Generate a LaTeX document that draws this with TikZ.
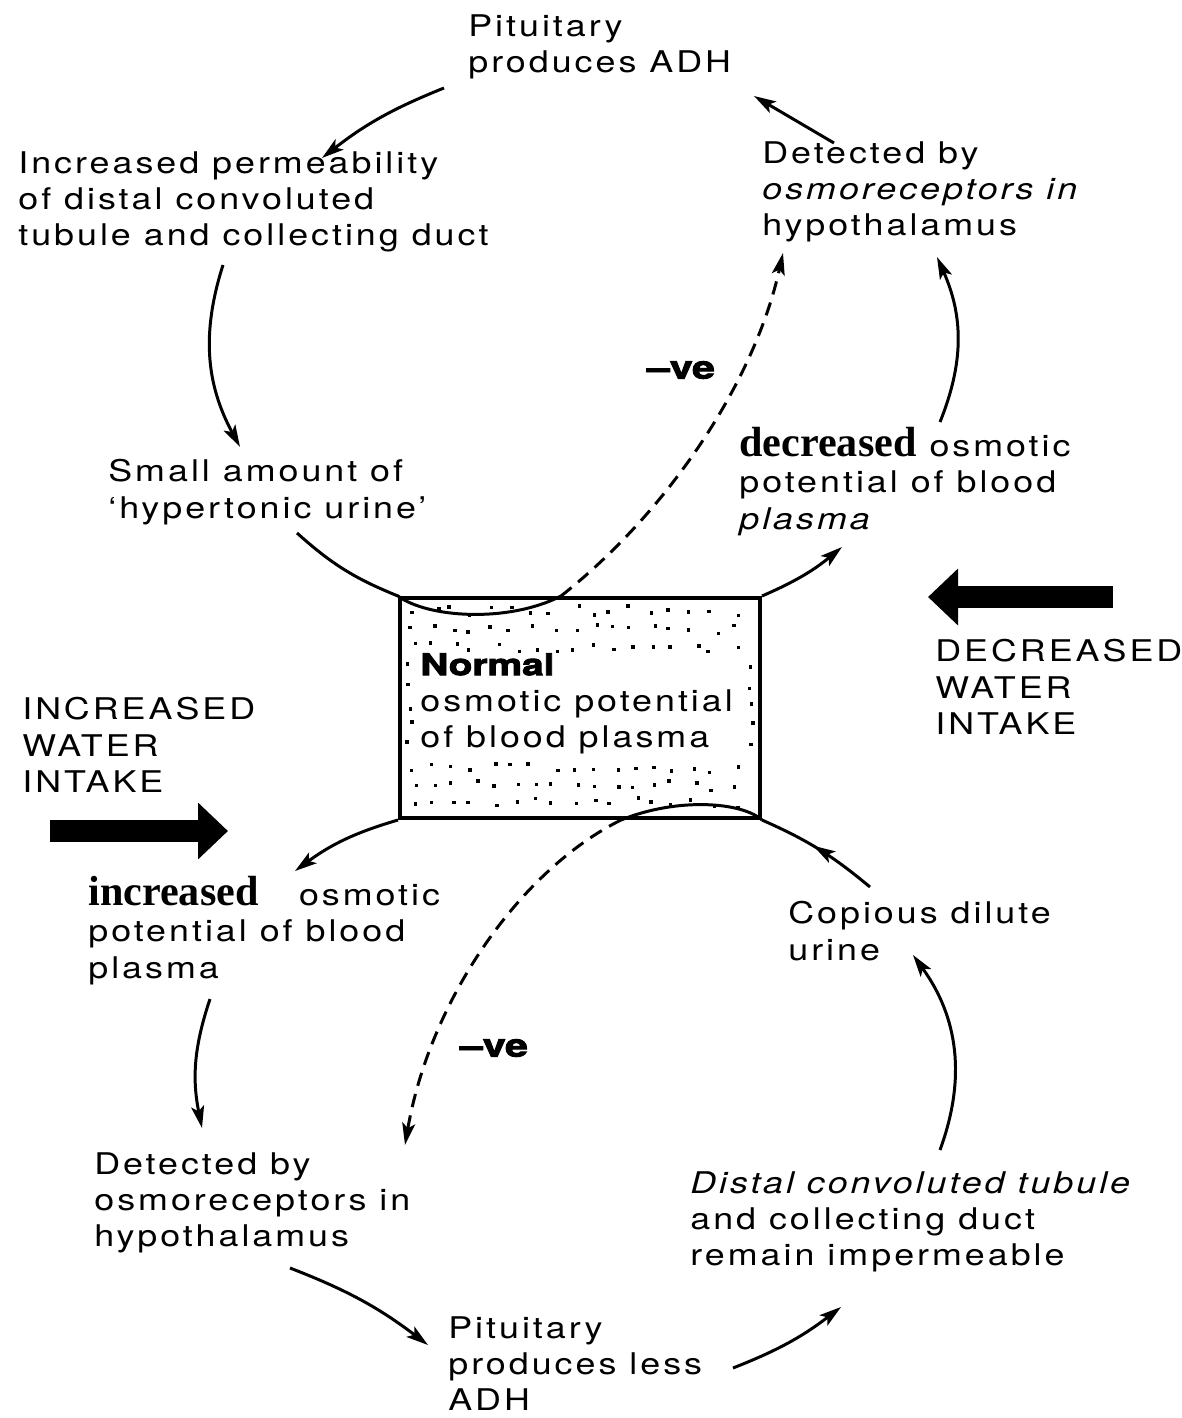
\documentclass[tikz,border=0pt]{standalone}
\usepackage{fontspec}
\setmainfont{TeX Gyre Heros}[LetterSpace=10, FakeStretch=1.2]
\newfontfamily\heavyfont{texgyreheros-bold.otf}[FakeStretch=1.3, FakeBold=3]
\newfontfamily\serifbf{Liberation Serif}
\usetikzlibrary{arrows.meta, positioning, decorations.markings}
\newcommand{\bigword}[1]{{\serifbf\bfseries\fontsize{24}{24}\selectfont #1}}
\newcommand{\negword}{{\heavyfont\fontsize{18}{18}\selectfont –ve}}

\tikzset{
  txt/.style={anchor=north west, inner sep=0pt, align=left, font=\fontsize{17}{20.7}\selectfont},
  normalbox/.style={draw, line width=2.3pt, inner sep=0pt, minimum width=7.2cm, minimum height=4.4cm},
  plainline/.style={line width=1.7pt},
  link/.style={plainline, -{Stealth[length=0.44cm, width=0.26cm, inset=0.1cm]}},
  neglink/.style={link, dash pattern=on 0.27cm off 0.17cm},
  midlink/.style={plainline, postaction={decorate}, decoration={markings,
      mark=at position 0.55 with {\arrow{Stealth[length=0.44cm, width=0.26cm, inset=0.1cm]}}}},
  bigarrow/.style={line width=0.44cm, -{Triangle[length=0.6cm, width=1.1cm]}},
  stip/.style={fill=black}
}

\begin{document}
\begin{tikzpicture}[x=0.02cm, y=-0.02cm]
\path[use as bounding box, fill=white] (0,0) rectangle (1182,1418);

% centre box with stipple
\node[normalbox] (box) at (580,708) {};
\pgfmathsetseed{11}
\foreach \gx in {412,432,...,742}{
  \foreach \gy in {609,627,645,767,784,801}{
    \fill[stip] ({\gx+12*rnd-6},{\gy+10*rnd-5}) rectangle ++(3.5,3.5);
  }
}
\foreach \gy in {665,685,...,745}{
  \fill[stip] ({405+7*rnd},{\gy+10*rnd-5}) rectangle ++(3.5,3.5);
  \fill[stip] ({747+6*rnd},{\gy+10*rnd-5}) rectangle ++(3.5,3.5);
}
\node[txt] (normal) at (420,653) {{\heavyfont\fontsize{17}{20}\selectfont Normal}\\osmotic potential\\of blood plasma};

% top loop
\node[txt] (pitA) at (468,14) {Pituitary\\produces ADH};
\node[txt] (perm) at (18,151) {Increased permeability\\of distal convoluted\\tubule and collecting duct};
\node[txt] (detA) at (762,141) {Detected by\\{\itshape osmoreceptors in}\\hypothalamus};
\node[txt] (small) at (108,459) {Small amount of\\`hypertonic urine'};
\node[txt] (decr) at (739,427) {\bigword{decreased} osmotic\\potential of blood\\{\itshape plasma}};
\node (negA) at (681,370) {\negword};

% bottom loop
\node[txt] (incr) at (88,876) {\bigword{increased}\hspace{0.55cm} osmotic\\potential of blood\\plasma};
\node (negB) at (494,1048) {\negword};
\node[txt] (detB) at (94,1152) {Detected by\\osmoreceptors in\\hypothalamus};
\node[txt] (pitB) at (448,1316) {Pituitary\\produces less\\ADH};
\node[txt] (dist) at (690,1171) {{\itshape Distal convoluted tubule}\\and collecting duct\\remain impermeable};
\node[txt] (copi) at (788,901) {Copious dilute\\urine};

% water intake
\node[txt] (incw) at (22,697) {INCREASED\\WATER\\INTAKE};
\node[txt] (decw) at (935,639) {DECREASED\\WATER\\INTAKE};
\draw[bigarrow] ([shift={(28,134)}]incw.north west) -- ++(178,0);
\draw[bigarrow] ([shift={(178,-42)}]decw.north west) -- ++(-185,0);

% connectors, top half
\draw[link] ([shift={(-24,74)}]pitA.north west) to[bend right=8] ([shift={(304,7)}]perm.north west);
\draw[link] ([shift={(205,114)}]perm.north west) to[bend right=23] ([shift={(132,-12)}]small.north west);
\draw[plainline] ([shift={(189,74)}]small.north west) to[bend right=10] (box.north west)
  .. controls ([shift={(30,22)}]box.north west) and ([shift={(110,27)}]box.north west) .. ([shift={(163,0)}]box.north west);
\draw[neglink] ([shift={(163,0)}]box.north west) .. controls (670,510) and (755,380) .. ([shift={(21,112)}]detA.north west);
\draw[link] (box.north east) to[bend right=8] ([shift={(103,120)}]decr.north west);
\draw[link] ([shift={(201,-5)}]decr.north west) to[bend right=23] ([shift={(175,116)}]detA.north west);
\draw[link] ([shift={(72,2)}]detA.north west) -- ([shift={(286,82)}]pitA.north west);

% connectors, bottom half
\draw[link] (box.south west) to[bend right=10] ([shift={(207,-5)}]incr.north west);
\draw[link] ([shift={(122,123)}]incr.north west) to[bend right=15] ([shift={(108,-24)}]detB.north west);
\draw[plainline] (box.south east) .. controls ([shift={(-20,-18)}]box.south east) and ([shift={(280,-23)}]box.south west) .. ([shift={(223,0)}]box.south west);
\draw[neglink] ([shift={(223,0)}]box.south west) .. controls (520,870) and (430,1000) .. ([shift={(311,-7)}]detB.north west);
\draw[link] ([shift={(196,116)}]detB.north west) to[bend left=8] ([shift={(-20,29)}]pitB.north west);
\draw[link] ([shift={(285,52)}]pitB.north west) to[bend right=8] ([shift={(151,136)}]dist.north west);
\draw[link] ([shift={(250,-21)}]dist.north west) to[bend right=28] ([shift={(125,54)}]copi.north west);
\draw[midlink] ([shift={(82,-14)}]copi.north west) to[bend right=8] (box.south east);
\end{tikzpicture}
\end{document}
